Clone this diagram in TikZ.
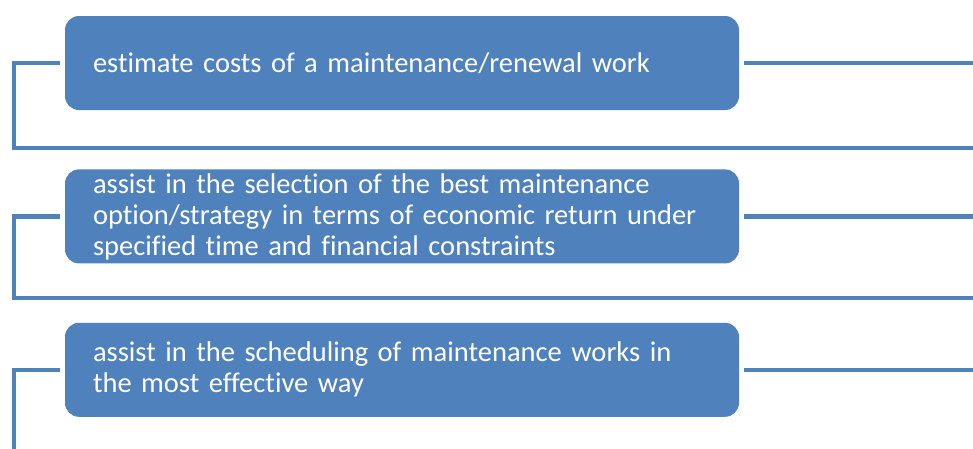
\documentclass[tikz,border=0pt]{standalone}
\usepackage{fontspec}
\setmainfont{Carlito}[Ligatures={NoCommon}]
\usepackage{tikz}
\usetikzlibrary{positioning}
\definecolor{boxblue}{HTML}{4F81BD}
\newcommand{\taskfont}{\fontsize{28.5}{31}\selectfont\hyphenpenalty=10000\relax\exhyphenpenalty=10000\relax}
\tikzset{
task_box/.style={rectangle, rounded corners=14pt, fill=boxblue, text=white, minimum width=674pt, minimum height=94pt, text width=618pt, align=left, inner sep=0pt, font=\taskfont},
link/.style={draw=boxblue, line width=4.5pt}
}

\begin{document}
\begin{tikzpicture}[x=1pt,y=-1pt]
    \useasboundingbox (0,0) rectangle (973,448);
    \clip (0,0) rectangle (973,448);
    \node[task_box] (cost) at (402,63) {estimate costs of a maintenance/renewal work};
    \node[task_box] (option) [below=59pt of cost] {assist in the selection of the best maintenance option/strategy in terms of economic return under specified time and financial constraints};
    \node[task_box] (sched) [below=59pt of option] {assist in the scheduling of maintenance works in the most effective way};
    \coordinate (edge) at (980,0);
    \coordinate (cost_l) at (14,148);
    \coordinate (option_l) at (14,298);
    \coordinate (sched_l) at (14,460);
    \draw[link] ([xshift=-5pt]cost.west) -| (cost_l) -- (cost_l -| edge);
    \draw[link] ([xshift=-5pt]option.west) -| (option_l) -- (option_l -| edge);
    \draw[link] ([xshift=-5pt]sched.west) -| (sched_l);
    \draw[link] ([xshift=5pt]cost.east) -- (cost.east -| edge);
    \draw[link] ([xshift=5pt]option.east) -- (option.east -| edge);
    \draw[link] ([xshift=5pt]sched.east) -- (sched.east -| edge);
\end{tikzpicture}
\end{document}
